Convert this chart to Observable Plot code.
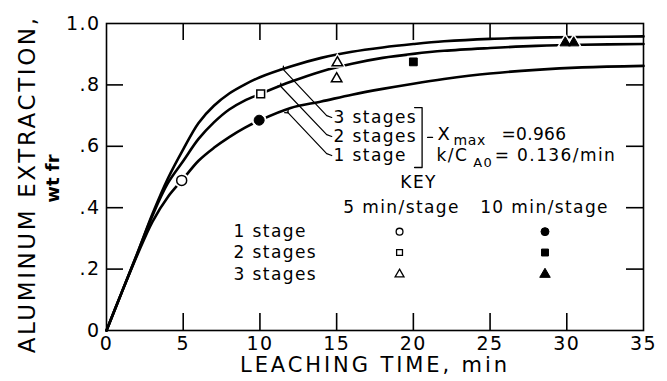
<!DOCTYPE html>
<html><head><meta charset="utf-8">
<script src="https://cdn.jsdelivr.net/npm/d3@7"></script>
<script src="https://cdn.jsdelivr.net/npm/@observablehq/plot@0.6"></script>
<style>
html,body{margin:0;padding:0;background:#fff;}
#chart svg{font-family:"DejaVu Sans";font-size:19px;color:black;background:white;}
#chart svg text{letter-spacing:1.4px;}
</style></head><body><div id="chart"></div>
<script>
// ---- data ----
const timeMin      = [0, 1, 2, 3, 4, 5, 6, 7, 8, 9, 10, 12, 14, 16, 18, 20, 22, 25, 28, 31, 35];
const extraction1  = [0, 0.125, 0.245, 0.355, 0.435, 0.494, 0.553, 0.595, 0.63, 0.66, 0.685, 0.725, 0.746, 0.768, 0.787, 0.804, 0.819, 0.837, 0.849, 0.857, 0.862];
const extraction2  = [0, 0.125, 0.25, 0.375, 0.48, 0.552, 0.624, 0.678, 0.72, 0.749, 0.77, 0.81, 0.844, 0.869, 0.888, 0.901, 0.911, 0.92, 0.927, 0.931, 0.933];
const extraction3  = [0, 0.125, 0.25, 0.38, 0.495, 0.59, 0.676, 0.732, 0.772, 0.801, 0.825, 0.86, 0.888, 0.908, 0.922, 0.933, 0.942, 0.95, 0.954, 0.956, 0.958];
const stageNames   = ["1 stage", "2 stages", "3 stages"];

const pointStage      = [1, 2, 3, 3, 1, 2, 3, 3];
const pointMode       = ["5 min/stage", "5 min/stage", "5 min/stage", "5 min/stage", "10 min/stage", "10 min/stage", "10 min/stage", "10 min/stage"];
const pointTime       = [4.9, 10.05, 15.05, 15.0, 9.95, 20.0, 29.9, 30.45];
const pointExtraction = [0.489, 0.771, 0.872, 0.82, 0.685, 0.875, 0.937, 0.937];
const modeNames       = ["5 min/stage", "10 min/stage"];

const xTicks      = [0, 5, 10, 15, 20, 25, 30, 35];
const xTickLabels = ["0", "5", "10", "15", "20", "25", "30", "35"];
const yTicks      = [0, 0.2, 0.4, 0.6, 0.8, 1.0];
const yTickLabels = ["0", ".2", ".4", ".6", ".8", "1.0"];
const xMaxText = "=0.966";
const kText    = "= 0.136/min";

// ---- tables ----
const seriesVals = [extraction1, extraction2, extraction3];
const curveRows = [];
seriesVals.forEach((vals, s) => timeMin.forEach((t, i) => curveRows.push({t, v: vals[i], stage: s + 1})));
const points = pointTime.map((t, i) => ({t, v: pointExtraction[i], stage: pointStage[i], mode: pointMode[i]}));

const symbolOf = {1: "circle", 2: "square", 3: "triangle"};
const rOf = {1: 5, 2: 4.4, 3: 3.9};

const marks = [];

// frame and inward ticks (17 px long)
const tickLenY = 17 / 307, tickLenX = 17 / 15.34;
const innerX = xTicks.slice(1, -1), innerY = yTicks.slice(1, -1);
marks.push(Plot.ruleX(innerX, {x: d => d, y1: () => 0, y2: () => tickLenY, stroke: "black", strokeWidth: 1.6}));
marks.push(Plot.ruleX(innerX, {x: d => d, y1: () => 1 - tickLenY, y2: () => 1, stroke: "black", strokeWidth: 1.6}));
marks.push(Plot.ruleY(innerY, {y: d => d, x1: () => 0, x2: () => tickLenX, stroke: "black", strokeWidth: 1.6}));
marks.push(Plot.ruleY(innerY, {y: d => d, x1: () => 35 - tickLenX, x2: () => 35, stroke: "black", strokeWidth: 1.6}));
marks.push(Plot.frame({stroke: "black", strokeWidth: 1.6}));

marks.push(Plot.line(curveRows, {x: "t", y: "v", z: "stage", curve: "catmull-rom", stroke: "black", strokeWidth: 2.6}));

for (const s of [1, 2, 3]) {
  const pts = points.filter(d => d.stage === s);
  marks.push(Plot.dot(pts, {x: "t", y: "v", symbol: symbolOf[s], r: rOf[s] + 2.5, fill: "white", stroke: "none"}));
  marks.push(Plot.dot(pts.filter(d => d.mode === modeNames[0]), {x: "t", y: "v", symbol: symbolOf[s], r: rOf[s], fill: "white", stroke: "black", strokeWidth: 1.5}));
  marks.push(Plot.dot(pts.filter(d => d.mode === modeNames[1]), {x: "t", y: "v", symbol: symbolOf[s], r: rOf[s], fill: "black", stroke: "black", strokeWidth: 1}));
}

// leader lines with arrowheads
const leaders = [
  {g: 3, x: 11.47, y: 0.853}, {g: 3, x: 14.35, y: 0.700}, {g: 3, x: 14.68, y: 0.694},
  {g: 2, x: 11.30, y: 0.798}, {g: 2, x: 14.35, y: 0.638}, {g: 2, x: 14.68, y: 0.632},
  {g: 1, x: 11.78, y: 0.712}, {g: 1, x: 14.35, y: 0.576}, {g: 1, x: 14.68, y: 0.570}
];
marks.push(Plot.line(leaders, {x: "x", y: "y", z: "g", stroke: "black", strokeWidth: 1.2, markerStart: "arrow"}));
marks.push(Plot.text([stageNames[2], stageNames[1], stageNames[0]], {x: () => 14.8, y: [0.694, 0.632, 0.570], text: d => d, textAnchor: "start", fontSize: 17}));

// bracket and parameters
marks.push(Plot.line([{x: 20.08, y: 0.726}, {x: 20.57, y: 0.726}, {x: 20.57, y: 0.531}, {x: 20.08, y: 0.531}], {x: "x", y: "y", stroke: "black", strokeWidth: 1.3}));
marks.push(Plot.line([{x: 20.93, y: 0.629}, {x: 21.25, y: 0.629}], {x: "x", y: "y", stroke: "black", strokeWidth: 1.3}));
marks.push(Plot.text(["X"], {x: () => 21.58, y: () => 0.638, text: d => d, textAnchor: "start", fontSize: 18}));
marks.push(Plot.text(["max"], {x: () => 22.62, y: () => 0.619, text: d => d, textAnchor: "start", fontSize: 14}));
marks.push(Plot.text([xMaxText], {x: () => 25.75, y: () => 0.638, text: d => d, textAnchor: "start", fontSize: 17}));
marks.push(Plot.text(["k/C"], {x: () => 21.51, y: () => 0.571, text: d => d, textAnchor: "start", fontSize: 17}));
marks.push(Plot.text(["A0"], {x: () => 23.9, y: () => 0.546, text: d => d, textAnchor: "start", fontSize: 13}));
marks.push(Plot.text([kText], {x: () => 25.3, y: () => 0.569, text: d => d, textAnchor: "start", fontSize: 17}));

// KEY
marks.push(Plot.text(["KEY"], {x: () => 20.34, y: () => 0.482, text: d => d, fontSize: 17}));
marks.push(Plot.text(modeNames, {x: [19.23, 28.55], y: () => 0.401, text: d => d, fontSize: 17}));
const keyY = {1: 0.322, 2: 0.254, 3: 0.183};
marks.push(Plot.text(stageNames, {x: () => 8.28, y: [keyY[1], keyY[2], keyY[3]], text: d => d, textAnchor: "start", fontSize: 17}));
const keySize = {1: 3.4, 2: 3.3, 3: 3.3};
for (const s of [1, 2, 3]) {
  marks.push(Plot.dot([s], {x: () => 19.1, y: () => keyY[s], symbol: symbolOf[s], r: keySize[s], fill: "white", stroke: "black", strokeWidth: 1.3}));
  marks.push(Plot.dot([s], {x: () => 28.58, y: () => keyY[s], symbol: symbolOf[s], r: keySize[s] + 0.6, fill: "black", stroke: "black", strokeWidth: 1}));
}

// axis titles
marks.push(Plot.text(["LEACHING TIME, min"], {x: () => 17.5, y: () => -0.112, text: d => d, fontSize: 21}));
marks.push(Plot.text(["ALUMINUM EXTRACTION,"], {x: () => -5.15, y: () => 0.476, rotate: -90, text: d => d, fontSize: 23}));
marks.push(Plot.text(["wt fr"], {x: () => -3.455, y: () => 0.495, rotate: -90, text: d => d, fontSize: 18, fontWeight: "bold"}));

const chart = Plot.plot({
  width: 667, height: 381,
  marginTop: 23, marginRight: 24, marginBottom: 51, marginLeft: 106,
  x: {domain: [0, 35], ticks: xTicks, tickSize: 0, tickPadding: 6, tickFormat: d => xTickLabels[xTicks.indexOf(d)], label: null},
  y: {domain: [0, 1], ticks: yTicks, tickSize: 0, tickPadding: 6, tickFormat: d => yTickLabels[yTicks.findIndex(v => Math.abs(v - d) < 1e-9)], label: null},
  marks
});
chart.querySelectorAll("text").forEach(t => {
  const s = t.textContent;
  if (s === "LEACHING TIME, min") t.style.letterSpacing = "2.9px";
  else if (s === "ALUMINUM EXTRACTION,") t.style.letterSpacing = "2.6px";
  else if (s === "wt fr") t.style.letterSpacing = "0px";
  else if (s === xMaxText) t.style.letterSpacing = "0.3px";
  else if (s === "max") t.style.letterSpacing = "0.6px";
});
document.getElementById("chart").appendChild(chart);
</script></body></html>
